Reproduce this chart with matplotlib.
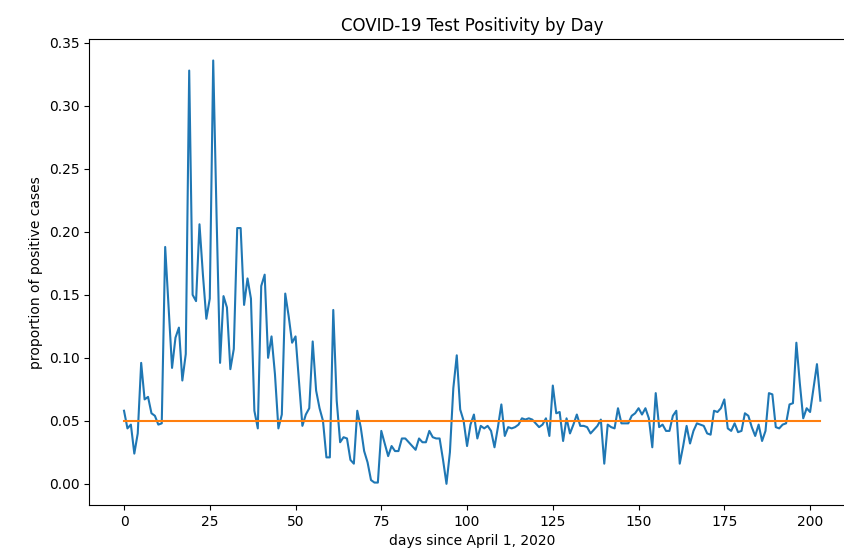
import numpy as np
from matplotlib import pyplot as plt

# daily proportion of positive tests, day 0 = April 1, 2020
positivity = [
    0.058, 0.044, 0.047, 0.024, 0.040, 0.096, 0.067, 0.069, 0.056, 0.054,  # 0-9
    0.047, 0.048, 0.188, 0.140, 0.092, 0.116, 0.124, 0.082, 0.103, 0.328,  # 10-19
    0.150, 0.145, 0.206, 0.166, 0.131, 0.147, 0.336, 0.210, 0.096, 0.149,  # 20-29
    0.140, 0.091, 0.107, 0.203, 0.203, 0.142, 0.163, 0.147, 0.058, 0.044,  # 30-39
    0.157, 0.166, 0.100, 0.117, 0.087, 0.044, 0.055, 0.151, 0.133, 0.112,  # 40-49
    0.117, 0.082, 0.046, 0.055, 0.060, 0.113, 0.074, 0.060, 0.050, 0.021,  # 50-59
    0.021, 0.138, 0.066, 0.033, 0.037, 0.036, 0.019, 0.016, 0.058, 0.045,  # 60-69
    0.026, 0.017, 0.003, 0.001, 0.001, 0.042, 0.032, 0.022, 0.030, 0.026,  # 70-79
    0.026, 0.036, 0.036, 0.033, 0.030, 0.027, 0.036, 0.033, 0.033, 0.042,  # 80-89
    0.037, 0.036, 0.036, 0.019, 0.000, 0.025, 0.076, 0.102, 0.059, 0.050,  # 90-99
    0.030, 0.047, 0.055, 0.036, 0.046, 0.044, 0.046, 0.042, 0.029, 0.045,  # 100-109
    0.063, 0.038, 0.045, 0.044, 0.045, 0.047, 0.052, 0.051, 0.052, 0.051,  # 110-119
    0.048, 0.045, 0.047, 0.052, 0.038, 0.078, 0.056, 0.057, 0.034, 0.052,  # 120-129
    0.040, 0.047, 0.055, 0.046, 0.046, 0.045, 0.040, 0.043, 0.046, 0.051,  # 130-139
    0.016, 0.047, 0.045, 0.044, 0.060, 0.048, 0.048, 0.048, 0.054, 0.056,  # 140-149
    0.060, 0.055, 0.060, 0.052, 0.029, 0.072, 0.045, 0.047, 0.042, 0.042,  # 150-159
    0.054, 0.058, 0.016, 0.030, 0.046, 0.032, 0.042, 0.048, 0.047, 0.046,  # 160-169
    0.040, 0.039, 0.058, 0.057, 0.060, 0.067, 0.044, 0.042, 0.048, 0.041,  # 170-179
    0.042, 0.056, 0.054, 0.045, 0.038, 0.047, 0.034, 0.042, 0.072, 0.071,  # 180-189
    0.045, 0.044, 0.047, 0.048, 0.063, 0.064, 0.112, 0.080, 0.052, 0.060,  # 190-199
    0.057, 0.076, 0.095, 0.066,                                            # 200-203
]
days = np.arange(len(positivity))
threshold = 0.05

fig = plt.figure(figsize=(8.45, 5.56), dpi=100)
ax = fig.add_axes([89.2 / 845, 51 / 556, 766 / 845, 465.7 / 556])

ax.plot(days, positivity)
ax.plot(days, [threshold] * len(days))

ax.set_title("COVID-19 Test Positivity by Day", fontsize=12)
ax.set_xlabel("days since April 1, 2020")
ax.set_ylabel("proportion of positive cases")
ax.spines["right"].set_visible(False)

fig.savefig("out.png", dpi=100)
